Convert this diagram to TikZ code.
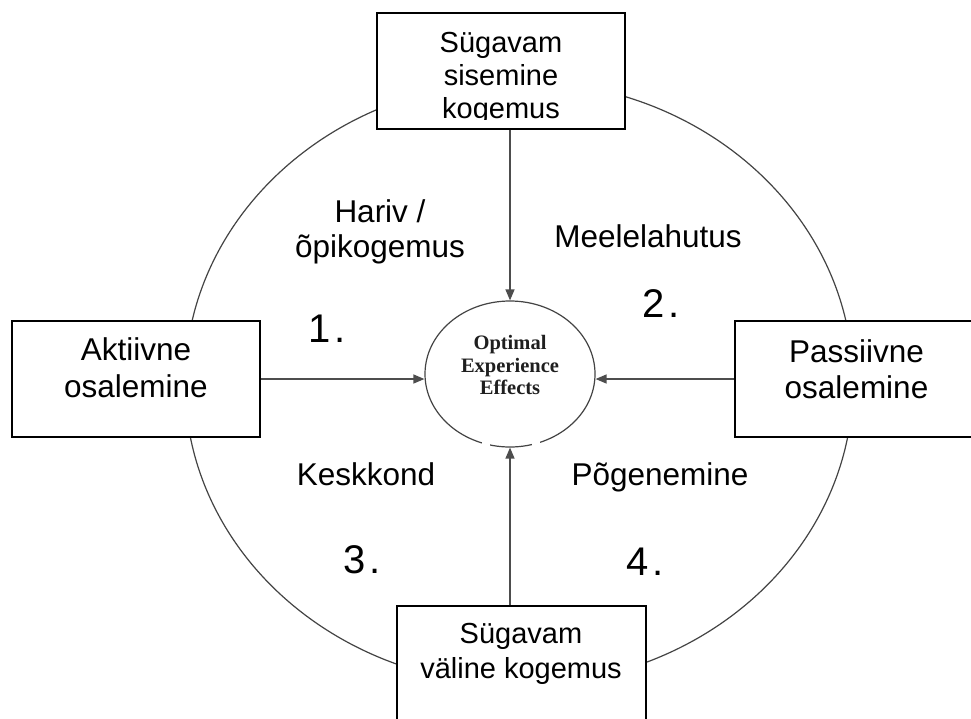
\documentclass[tikz,border=0pt]{standalone}
\usepackage{fontspec}
\setmainfont{Liberation Sans}
\newfontfamily\tnr{Liberation Serif}
\usetikzlibrary{arrows.meta,shapes.geometric}
\definecolor{ringgray}{HTML}{444444}
\definecolor{arrgray}{HTML}{4D4D4D}
\begin{document}
\begin{tikzpicture}[x=1pt,y=-1pt,
  box/.style={draw=black, line width=1.5pt, fill=white, inner sep=0pt},
  btext/.style={inner sep=0pt, anchor=base, font=\fontsize{29}{33}\selectfont},
  stext/.style={inner sep=0pt, anchor=base, font=\fontsize{31.5}{36}\selectfont},
  lbl/.style={inner sep=0pt, anchor=base, font=\fontsize{31.5}{36}\selectfont},
  num/.style={inner sep=0pt, anchor=base west, font=\fontsize{40}{44}\selectfont},
  ctext/.style={inner sep=0pt, anchor=base, font=\tnr\bfseries\fontsize{20.5}{23}\selectfont, text=black!88},
  ring/.style={draw=ringgray, line width=1.2pt},
  arr/.style={draw=arrgray, line width=1.3pt, -{Triangle[length=11pt,width=9pt]}}]
\useasboundingbox (0,0) rectangle (971,718);
\clip (0,0) rectangle (971,718);
\fill[white] (0,0) rectangle (971,718);
% outer ring
\draw[ring] (519,383) ellipse [x radius=334pt, y radius=302pt];
% central ellipse
\node[ellipse, draw=ringgray, line width=1.2pt, minimum width=170pt, minimum height=146pt, inner sep=0pt] (ce) at (510,374) {};
\fill[white] (481.5,440) rectangle (490,451);
\fill[white] (531.5,440) rectangle (540,451);
\node[ctext] (c1) at (510,349) {Optimal};
\node[ctext] (c2) at (510,372.5) {Experience};
\node[ctext] (c3) at (510,394.5) {Effects};
% boxes
\node[box, minimum width=248pt, minimum height=116pt] (top) at (501,71) {};
\begin{scope}
  \clip (378,14) rectangle (624,119);
  \node[btext] (t1) at (501,52) {Sügavam};
  \node[btext] (t2) at (501,85) {sisemine};
  \node[btext] (t3) at (501,118) {kogemus};
\end{scope}
\node[box, minimum width=248pt, minimum height=116pt] (lbox) at (136,379) {};
\node[stext] (l1) at (136,360) {Aktiivne};
\node[stext] (l2) at (136,397) {osalemine};
\node[box, minimum width=245pt, minimum height=116pt] (rbox) at (857.5,379) {};
\node[stext] (r1) at (856.5,362) {Passiivne};
\node[stext] (r2) at (856.5,398) {osalemine};
\node[box, minimum width=249pt, minimum height=134pt] (bbox) at (521.5,673) {};
\node[btext] (b1) at (521,643) {Sügavam};
\node[btext] (b2) at (521,678) {väline kogemus};
% arrows
\draw[arr] (top.south -| ce.north) -- (ce.north);
\draw[arr] (bbox.north -| ce.south) -- (ce.south);
\draw[arr] (lbox.east) -- (lbox.east -| ce.west);
\draw[arr] (rbox.west) -- (rbox.west -| ce.east);
% labels
\node[lbl] (h1) at (380,222) {Hariv /};
\node[lbl] (h2) at (380,257) {õpikogemus};
\node[lbl] (m1) at (648,247) {Meelelahutus};
\node[lbl] (k1) at (366,485) {Keskkond};
\node[lbl] (p1) at (660,485) {Põgenemine};
% numbers
\node[num] (n1) at (308,342) {1\kern4pt.};
\node[num] (n2) at (642,317) {2\kern4pt.};
\node[num] (n3) at (343.5,573) {3\kern4pt.};
\node[num] (n4) at (626,575) {4\kern4pt.};
\end{tikzpicture}
\end{document}
